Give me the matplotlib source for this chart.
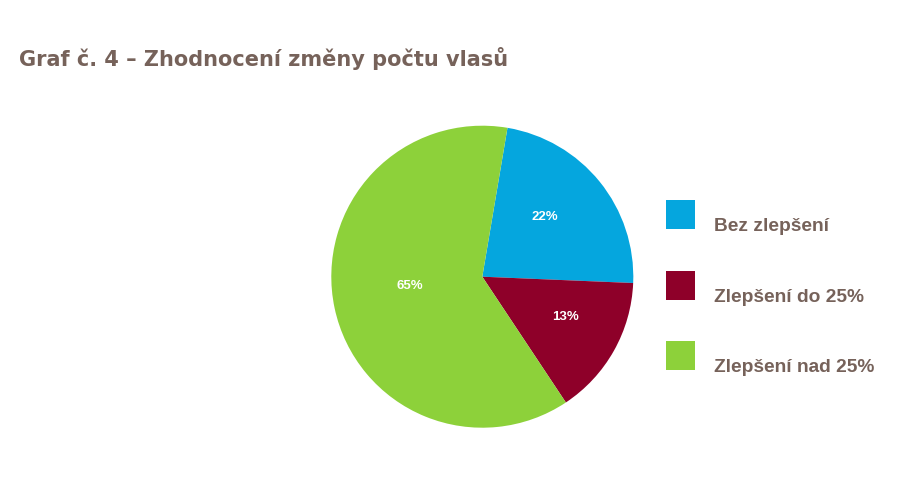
import matplotlib
matplotlib.use("Agg")
import numpy as np
import matplotlib.pyplot as plt
from matplotlib.patches import Rectangle
from matplotlib.legend_handler import HandlerPatch

plt.rcParams['font.family'] = ['Liberation Sans', 'DejaVu Sans']

categories = ["Bez zlepšení", "Zlepšení do 25%", "Zlepšení nad 25%"]
values = [23, 15, 62]
value_labels = ["22%", "13%", "65%"]
colors = ["#05A6DE", "#8E0029", "#8DD13A"]
text_color = "#76625A"
title = "Graf č. 4 – Zhodnocení změny počtu vlasů"

# label placement style (radius fraction, angle offset in degrees)
label_r = [0.575, 0.613, 0.483]
label_dang = [4.7, 3.7, -4.3]

fig = plt.figure(figsize=(9.18, 4.82), dpi=100)
fig.patch.set_facecolor("white")

ax = fig.add_axes([331.3 / 918, 54.3 / 482, 302 / 918, 302 / 482])
lab_iter = iter(value_labels)
wedges, texts, autotexts = ax.pie(
    values, colors=colors, startangle=80.4, counterclock=False,
    autopct=lambda p: next(lab_iter), pctdistance=0.58,
    wedgeprops=dict(linewidth=0), textprops=dict(color="white", fontsize=9.5, fontweight="bold"))
for w, t, r, da in zip(wedges, autotexts, label_r, label_dang):
    mid = np.deg2rad((w.theta1 + w.theta2) / 2 + da)
    t.set_position((r * np.cos(mid), r * np.sin(mid)))
ax.set_xlim(-1, 1)
ax.set_ylim(-1, 1)
ax.set_aspect("equal")

fig.text(19 / 918, 1 - 66.5 / 482, title, fontsize=15.05, fontweight="bold", color=text_color,
         family=["DejaVu Sans"], ha="left", va="baseline")

SQ = 29 * 72 / 100  # square size in points


def make_square(legend, orig_handle, xdescent, ydescent, width, height, fontsize):
    return Rectangle((-xdescent, -ydescent + height / 2 + 7.0 - SQ / 2), SQ, SQ)


handles = [Rectangle((0, 0), 1, 1, facecolor=c, linewidth=0) for c in colors]
leg = fig.legend(handles, categories, loc="upper left", bbox_to_anchor=(666 / 918, 1 - 218 / 482),
                 frameon=False, labelspacing=2.76, handlelength=SQ / 13.8, handletextpad=0.98,
                 prop=dict(size=13.8, weight="bold"), labelcolor=text_color, borderaxespad=0,
                 borderpad=0,
                 handler_map={Rectangle: HandlerPatch(patch_func=make_square)})

fig.savefig("out.png", dpi=100, facecolor="white")
